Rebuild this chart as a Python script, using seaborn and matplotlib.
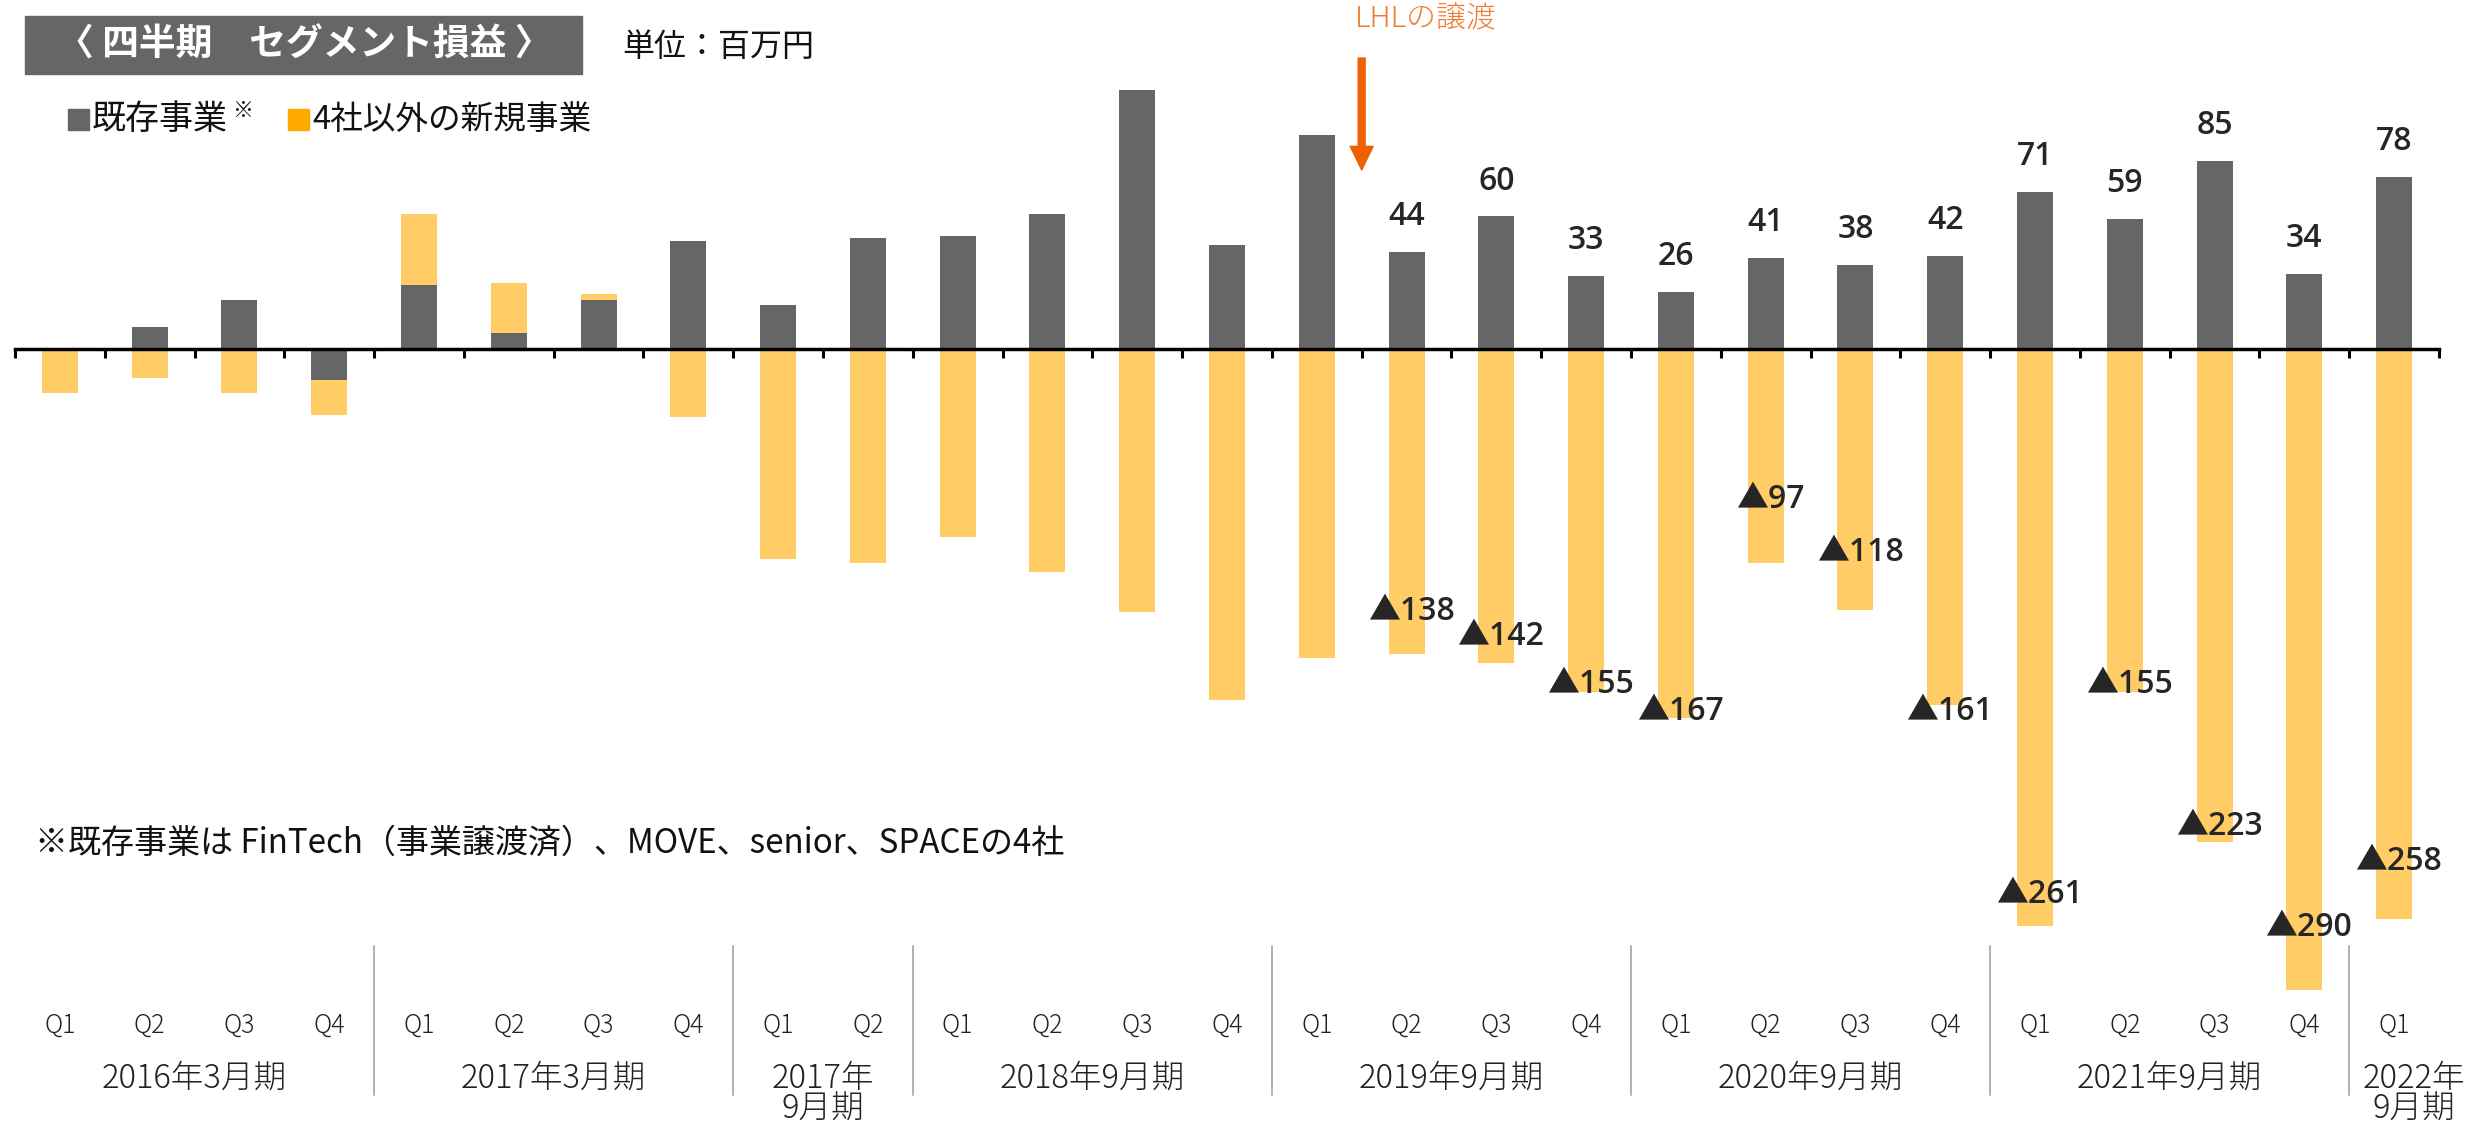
import numpy as np
import pandas as pd
import matplotlib
matplotlib.use('Agg')
import matplotlib.pyplot as plt
from matplotlib.patches import Rectangle
import seaborn as sns

sns.set_style('white')
plt.rcParams['font.family'] = ['Noto Sans CJK JP', 'DejaVu Sans']

# data (百万円)
groups = ['2016年3月期', '2017年3月期', '2017年\n9月期', '2018年9月期',
          '2019年9月期', '2020年9月期', '2021年9月期', '2022年\n9月期']
group_sizes = [4, 4, 2, 4, 4, 4, 4, 1]
existing = [0, 10, 22, -14, 29, 7, 22, 49, 20, 50, 51, 61, 117, 47,
            97, 44, 60, 33, 26, 41, 38, 42, 71, 59, 85, 34, 78]
new_biz = [-20, -13, -20, -16, 32, 23, 3, -31, -95, -97, -85, -101, -119, -159,
           -140, -138, -142, -155, -167, -97, -118, -161, -261, -155, -223, -290, -258]
first_labeled = 15          # labels from 2019年9月期 Q2
neg_shift = [19, 12, 3, 3, 29, 26, -3, 14, 3, 7, 28, 26]

quarters = [f'Q{q + 1}' for n in group_sizes for q in range(n)]
keys = [f'{g}-{q + 1}' for g, n in zip(groups, group_sizes) for q in range(n)]
df = pd.DataFrame({'key': keys, 'existing': existing, 'new': new_biz})
# new business bar stacks on top of existing when both have the same sign
same = np.sign(df['existing']) == np.sign(df['new'])
df['new_end'] = df['new'] + np.where(same, df['existing'], 0)

W, H = 2481, 1128
GRAY = '#666666'
YELLOW = '#FFCC66'

fig = plt.figure(figsize=(W / 100, H / 100), dpi=100)
ax = fig.add_axes([15 / W, 0, (2439 - 15) / W, 1])

sns.barplot(data=df, x='key', y='new_end', order=keys, color=YELLOW,
            saturation=1, width=0.40, errorbar=None, linewidth=0, ax=ax)
sns.barplot(data=df, x='key', y='existing', order=keys, color=GRAY,
            saturation=1, width=0.40, errorbar=None, linewidth=0, ax=ax)

n = len(keys)
ax.set_xlim(-0.5, n - 0.5)
ax.set_ylim(-352.5, 157.9)
for s in ['left', 'right', 'top']:
    ax.spines[s].set_visible(False)
ax.spines['bottom'].set_position(('data', 0))
ax.spines['bottom'].set_linewidth(2.5)
ax.spines['bottom'].set_color('black')
ax.set_xticks(np.arange(-0.5, n, 1))
ax.set_xticklabels([])
ax.tick_params(axis='x', direction='out', length=6.5, width=2.2, color='black', bottom=True)
ax.set_yticks([])
ax.set_xlabel('')
ax.set_ylabel('')

num_font = ['Open Sans', 'Noto Sans CJK JP']
for j, i in enumerate(range(first_labeled, n)):
    ax.text(i, existing[i] + 16, f'{existing[i]}', ha='center', va='center',
            fontsize=23, fontweight='semibold', family=num_font)
    ax.text(i + 0.05, new_biz[i] + neg_shift[j], f'▲{-new_biz[i]}', ha='center', va='center',
            fontsize=23, fontweight='semibold', family=num_font)

# x axis: quarter and fiscal-year labels
def fy(px):
    return 1 - px / H

for i, q in enumerate(quarters):
    ax.text(i, fy(1025), q, transform=ax.get_xaxis_transform(), ha='center', va='center',
            fontsize=18, fontweight='light', color='#222222')
start = 0
for g, size in zip(groups, group_sizes):
    center = start + (size - 1) / 2
    if start + size == n:
        center += 0.22   # last label is wider than its single column
    ax.text(center, fy(1061), g, transform=ax.get_xaxis_transform(), ha='center', va='top',
            fontsize=23.5, fontweight='light', color='#222222', linespacing=0.88)
    start += size
    if start < n:
        ax.plot([start - 0.5, start - 0.5], [fy(946), fy(1095)], transform=ax.get_xaxis_transform(),
                color='#AAAAAA', lw=1.3, clip_on=False)

# LHL transfer marker
ax.annotate('', xy=(first_labeled - 0.5, fy(170)), xytext=(first_labeled - 0.5, fy(58)),
            xycoords=('data', 'figure fraction'), textcoords=('data', 'figure fraction'),
            arrowprops=dict(arrowstyle='simple,head_length=17,head_width=16.5,tail_width=5',
                            mutation_scale=1, color='#EE6100', shrinkA=0, shrinkB=0))
fig.text(1355 / W, fy(19), 'LHLの譲渡', ha='left', va='center', fontsize=21.5,
         fontweight='light', color='#F07A30')

# title box
fig.patches.append(Rectangle((25 / W, fy(74)), (582 - 25) / W, (74 - 16) / H,
                             transform=fig.transFigure, color=GRAY, zorder=0))
fig.text(304 / W, fy(45), '〈 四半期　セグメント損益 〉', ha='center', va='center',
         fontsize=26.5, fontweight='bold', color='white')
fig.text(622 / W, fy(47), '単位：百万円', ha='left', va='center', fontsize=23, color='#111111')

# legend
fig.patches.append(Rectangle((68 / W, fy(130)), 21 / W, 21 / H, transform=fig.transFigure,
                             color=GRAY))
fig.text(92 / W, fy(120), '既存事業', ha='left', va='center', fontsize=24.5, color='#111111')
fig.text(232 / W, fy(111), '※', ha='left', va='center', fontsize=15, color='#111111')
fig.patches.append(Rectangle((288 / W, fy(130)), 21 / W, 21 / H, transform=fig.transFigure,
                             color='#FFA800'))
fig.text(312 / W, fy(120), '4社以外の新規事業', ha='left', va='center', fontsize=23.5,
         color='#111111')

fig.text(35 / W, fy(843), '※既存事業は FinTech（事業譲渡済）、MOVE、senior、SPACEの4社',
         ha='left', va='center', fontsize=23.8, color='#111111')

fig.savefig('out.png', dpi=100)
